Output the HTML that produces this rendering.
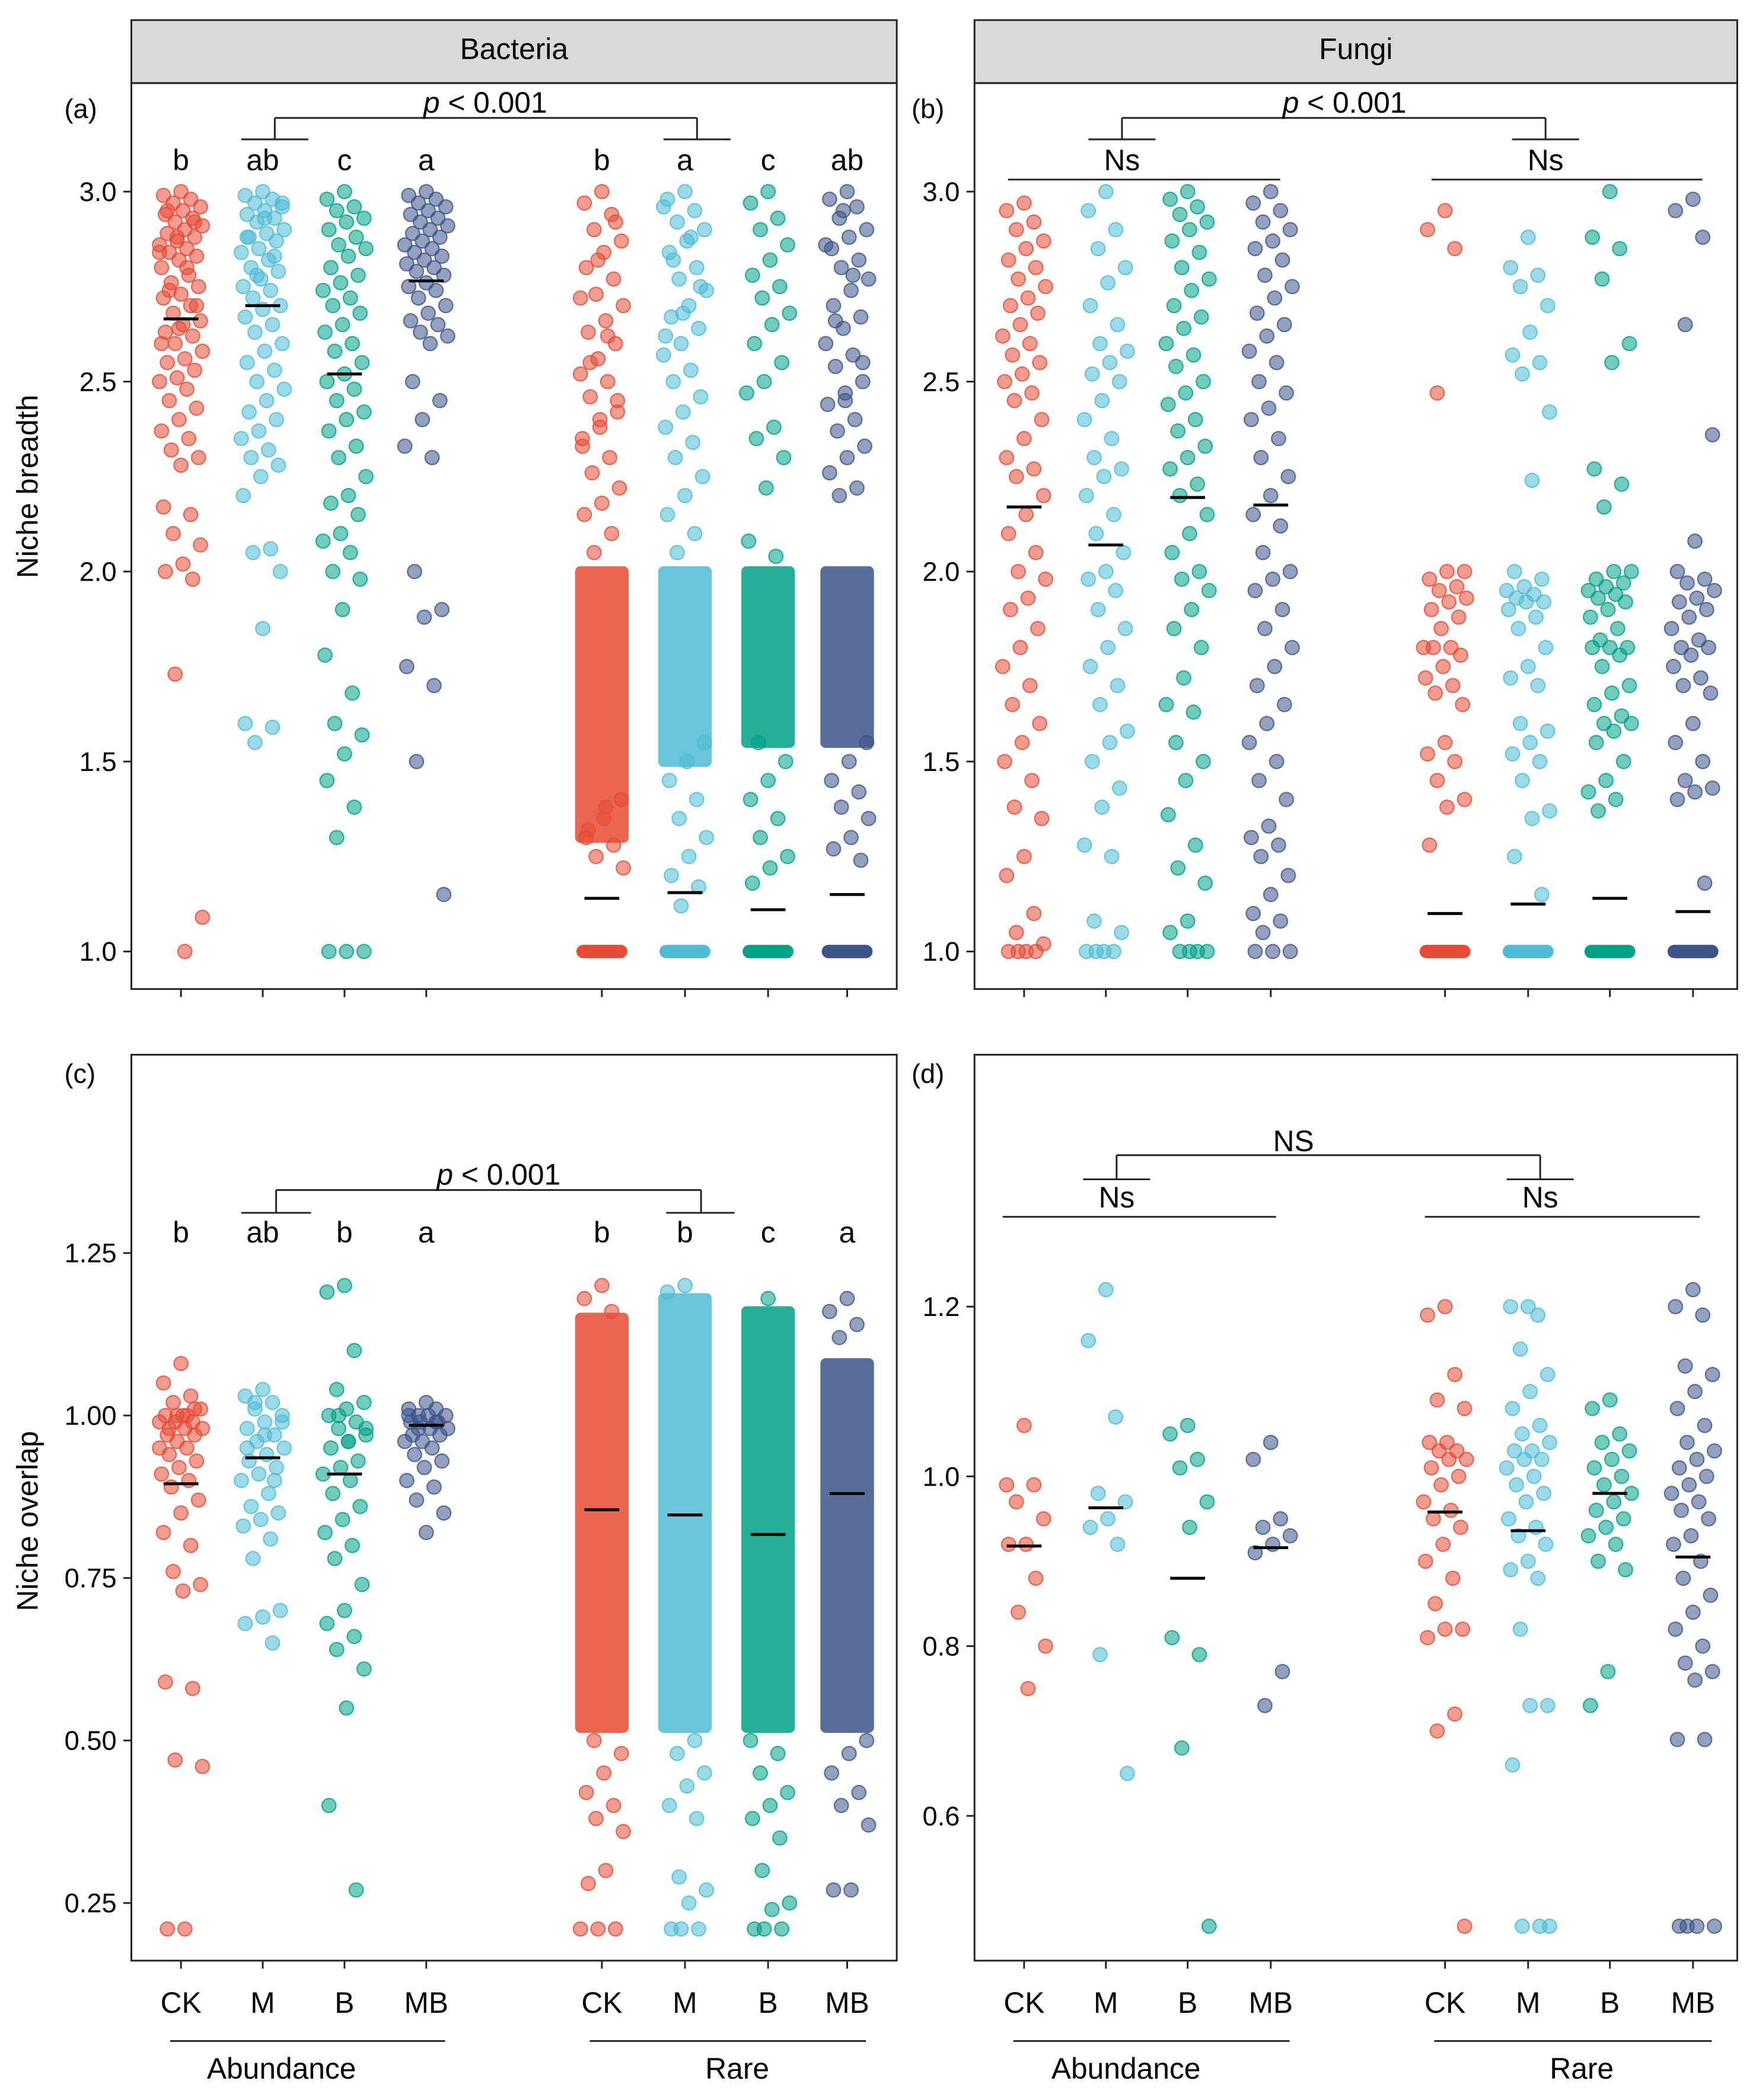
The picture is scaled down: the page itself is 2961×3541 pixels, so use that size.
<!DOCTYPE html>
<html><head><meta charset="utf-8"><style>
html,body{margin:0;padding:0;background:#fff}
svg{display:block}
text{font-family:"Liberation Sans",Arial,sans-serif;fill:#000}
</style></head><body>
<svg id="chart" width="2961" height="3541" viewBox="0 0 1310 1567" preserveAspectRatio="none" xmlns="http://www.w3.org/2000/svg"></svg>
<script>
// ---------- DATA ----------
const groups = ["CK","M","B","MB"];
const colors = ["#E64B35","#4DBBD5","#00A087","#3C5488"];
// Panel a: bacteria niche breadth
const aAbund = [
 [3.0,2.99,2.98,2.97,2.96,2.95,2.94,2.93,2.92,2.91,2.9,2.89,2.88,2.87,2.86,2.85,2.84,2.83,2.82,2.8,2.78,2.76,2.75,2.73,2.72,2.7,2.68,2.66,2.65,2.63,2.62,2.6,2.58,2.56,2.55,2.53,2.51,2.5,2.48,2.45,2.43,2.4,2.37,2.35,2.32,2.3,2.28,2.17,2.15,2.1,2.07,2.02,2.0,1.98,1.73,1.09,1.0,2.95,2.92,2.88,2.84,2.8,2.74,2.7,2.64,2.6],
 [3.0,2.99,2.98,2.97,2.96,2.95,2.94,2.93,2.92,2.9,2.89,2.88,2.87,2.85,2.84,2.82,2.8,2.79,2.77,2.75,2.74,2.72,2.7,2.69,2.67,2.65,2.63,2.6,2.58,2.55,2.53,2.5,2.48,2.45,2.42,2.4,2.37,2.35,2.32,2.3,2.28,2.25,2.2,2.06,2.05,2.0,1.85,1.6,1.59,1.55,2.97,2.93,2.88,2.83,2.78],
 [3.0,2.98,2.96,2.95,2.93,2.92,2.9,2.88,2.86,2.85,2.83,2.8,2.78,2.76,2.74,2.72,2.7,2.68,2.65,2.63,2.6,2.58,2.55,2.52,2.5,2.48,2.45,2.42,2.4,2.37,2.33,2.3,2.25,2.2,2.18,2.15,2.1,2.08,2.05,2.0,1.98,1.9,1.78,1.68,1.6,1.57,1.52,1.45,1.38,1.3,1.0,1.0,1.0],
 [3.0,2.99,2.98,2.97,2.96,2.95,2.94,2.93,2.92,2.91,2.9,2.89,2.88,2.87,2.86,2.85,2.84,2.83,2.82,2.81,2.8,2.79,2.78,2.76,2.75,2.74,2.72,2.7,2.68,2.66,2.65,2.63,2.62,2.6,2.5,2.45,2.4,2.33,2.3,2.0,1.9,1.88,1.75,1.7,1.5,1.15]
];
const aRare = [
 [3.0,2.97,2.94,2.9,2.87,2.84,2.8,2.77,2.73,2.7,2.66,2.63,2.6,2.56,2.52,2.5,2.46,2.42,2.38,2.35,2.3,2.26,2.22,2.18,2.15,2.1,2.05,1.4,1.35,1.3,1.28,1.25,1.22,1.38,1.32,2.92,2.82,2.72,2.62,2.55,2.45,2.4,2.33],
 [3.0,2.98,2.95,2.92,2.9,2.87,2.84,2.8,2.77,2.74,2.7,2.67,2.64,2.6,2.57,2.53,2.5,2.46,2.42,2.38,2.34,2.3,2.25,2.2,2.15,2.1,2.05,1.55,1.5,1.45,1.4,1.35,1.3,1.25,1.2,1.17,1.12,2.96,2.88,2.82,2.75,2.68,2.62],
 [3.0,2.97,2.93,2.9,2.86,2.82,2.78,2.75,2.72,2.68,2.65,2.6,2.55,2.5,2.47,2.38,2.35,2.3,2.22,2.08,2.04,1.55,1.5,1.45,1.4,1.35,1.3,1.25,1.22,1.18],
 [3.0,2.98,2.96,2.93,2.9,2.88,2.85,2.82,2.8,2.77,2.74,2.7,2.67,2.64,2.6,2.57,2.54,2.5,2.47,2.44,2.4,2.37,2.33,2.3,2.26,2.22,2.2,1.55,1.5,1.45,1.42,1.38,1.35,1.3,1.27,1.24,2.95,2.86,2.78,2.66,2.55,2.45]
];
const aRareBand = [[1.3,2.0],[1.5,2.0],[1.55,2.0],[1.55,2.0]];
const aMeanAb = [2.665,2.70,2.52,2.765];
const aMeanRare = [1.14,1.155,1.11,1.15];
// Panel b: fungi niche breadth
const bAbund = [
 [2.97,2.95,2.92,2.9,2.87,2.85,2.82,2.8,2.77,2.75,2.72,2.7,2.68,2.65,2.62,2.6,2.57,2.55,2.52,2.5,2.47,2.45,2.4,2.35,2.3,2.27,2.25,2.2,2.15,2.1,2.05,2.0,1.98,1.93,1.9,1.85,1.8,1.75,1.7,1.65,1.6,1.55,1.5,1.45,1.38,1.35,1.25,1.2,1.1,1.05,1.02,1.0,1.0,1.0,1.0],
 [3.0,2.95,2.9,2.85,2.8,2.76,2.7,2.65,2.6,2.58,2.55,2.52,2.5,2.45,2.4,2.35,2.3,2.27,2.25,2.2,2.15,2.1,2.05,2.0,1.98,1.95,1.9,1.85,1.8,1.75,1.7,1.65,1.58,1.55,1.5,1.43,1.38,1.28,1.25,1.08,1.05,1.0,1.0,1.0,1.0],
 [3.0,2.98,2.96,2.94,2.92,2.9,2.87,2.84,2.8,2.77,2.74,2.7,2.67,2.64,2.6,2.57,2.54,2.5,2.47,2.44,2.4,2.37,2.33,2.3,2.27,2.23,2.2,2.15,2.1,2.05,2.0,1.98,1.95,1.9,1.85,1.8,1.72,1.65,1.63,1.55,1.5,1.45,1.36,1.28,1.22,1.18,1.08,1.05,1.0,1.0,1.0,1.0],
 [3.0,2.97,2.95,2.92,2.9,2.87,2.85,2.82,2.78,2.75,2.72,2.68,2.65,2.62,2.58,2.55,2.5,2.47,2.43,2.4,2.35,2.3,2.25,2.2,2.15,2.12,2.05,2.0,1.98,1.95,1.9,1.85,1.8,1.75,1.7,1.65,1.6,1.55,1.5,1.45,1.4,1.33,1.3,1.28,1.25,1.2,1.15,1.1,1.08,1.05,1.0,1.0,1.0]
];
const bRare = [
 [2.95,2.9,2.85,2.47,2.0,2.0,1.98,1.96,1.95,1.93,1.92,1.9,1.88,1.85,1.8,1.8,1.8,1.78,1.75,1.72,1.7,1.68,1.65,1.55,1.52,1.5,1.45,1.4,1.38,1.28],
 [2.88,2.8,2.78,2.75,2.7,2.63,2.57,2.55,2.52,2.42,2.24,2.0,1.98,1.96,1.95,1.94,1.93,1.92,1.92,1.9,1.88,1.85,1.8,1.75,1.72,1.7,1.6,1.58,1.55,1.52,1.5,1.45,1.37,1.35,1.25,1.15],
 [3.0,2.88,2.85,2.77,2.6,2.55,2.27,2.23,2.17,2.0,2.0,1.98,1.97,1.96,1.95,1.94,1.93,1.92,1.9,1.88,1.85,1.82,1.8,1.8,1.8,1.78,1.75,1.7,1.68,1.65,1.62,1.6,1.6,1.58,1.55,1.5,1.45,1.42,1.4,1.37],
 [2.98,2.95,2.88,2.65,2.36,2.08,2.0,1.98,1.97,1.95,1.93,1.92,1.9,1.88,1.85,1.82,1.8,1.8,1.78,1.75,1.72,1.7,1.68,1.6,1.55,1.5,1.45,1.43,1.42,1.4,1.18]
];
const bMeanAb = [2.17,2.07,2.195,2.175];
const bMeanRare = [1.10,1.125,1.14,1.105];
// Panel c: bacteria niche overlap
const cAbund = [
 [1.08,1.05,1.03,1.02,1.01,1.0,1.0,0.99,0.99,0.98,0.98,0.97,0.97,0.96,0.95,0.95,0.94,0.93,0.92,0.91,0.9,0.89,0.87,0.85,0.82,0.8,0.76,0.74,0.73,0.59,0.58,0.47,0.46,0.21,0.21,1.01,1.0,0.99,1.0,0.98],
 [1.04,1.03,1.02,1.01,1.0,0.99,0.98,0.97,0.96,0.95,0.94,0.93,0.92,0.91,0.9,0.88,0.86,0.85,0.84,0.83,0.81,0.78,0.7,0.69,0.68,0.65,1.02,0.99,0.97,0.95,0.9],
 [1.2,1.19,1.1,1.04,1.02,1.01,1.0,0.99,0.98,0.97,0.96,0.95,0.93,0.92,0.91,0.9,0.88,0.86,0.84,0.82,0.8,0.78,0.74,0.7,0.68,0.66,0.64,0.61,0.55,0.4,0.27,1.0,0.98,0.96],
 [1.02,1.01,1.01,1.0,1.0,1.0,0.99,0.99,0.99,0.98,0.98,0.97,0.97,0.96,0.96,0.95,0.94,0.93,0.92,0.9,0.89,0.87,0.85,0.82,1.0,0.99,0.98]
];
const cRare = [
 [1.2,1.18,1.16,0.5,0.48,0.45,0.42,0.4,0.38,0.36,0.3,0.28,0.21,0.21,0.21],
 [1.2,1.19,0.5,0.48,0.45,0.43,0.4,0.38,0.29,0.27,0.25,0.21,0.21,0.21],
 [1.18,0.5,0.48,0.45,0.42,0.4,0.38,0.35,0.3,0.25,0.24,0.21,0.21,0.21],
 [1.18,1.16,1.14,1.12,0.5,0.48,0.45,0.42,0.4,0.37,0.27,0.27]
];
const cRareBand = [[0.52,1.15],[0.52,1.18],[0.52,1.16],[0.52,1.08]];
const cMeanAb = [0.895,0.935,0.91,0.985];
const cMeanRare = [0.855,0.847,0.817,0.88];
// Panel d: fungi niche overlap
const dAbund = [
 [1.06,0.99,0.99,0.97,0.95,0.92,0.92,0.88,0.84,0.8,0.75],
 [1.22,1.16,1.07,0.98,0.97,0.95,0.94,0.92,0.79,0.65],
 [1.06,1.05,1.02,1.01,0.97,0.94,0.81,0.79,0.68,0.47],
 [1.04,1.02,0.95,0.94,0.93,0.92,0.91,0.77,0.73]
];
const dRare = [
 [1.2,1.19,1.12,1.09,1.08,1.04,1.04,1.03,1.03,1.02,1.02,1.01,1.0,0.99,0.97,0.96,0.95,0.94,0.92,0.9,0.88,0.85,0.82,0.82,0.81,0.72,0.7,0.47],
 [1.2,1.2,1.19,1.15,1.12,1.1,1.08,1.06,1.05,1.04,1.03,1.03,1.02,1.02,1.01,1.0,0.99,0.98,0.97,0.95,0.94,0.93,0.92,0.9,0.89,0.88,0.82,0.73,0.73,0.66,0.47,0.47,0.47],
 [1.09,1.08,1.05,1.04,1.03,1.02,1.01,1.0,0.99,0.98,0.97,0.96,0.95,0.94,0.93,0.92,0.9,0.89,0.77,0.73],
 [1.22,1.2,1.19,1.13,1.12,1.1,1.08,1.06,1.04,1.03,1.02,1.01,1.0,0.99,0.98,0.97,0.96,0.95,0.93,0.92,0.9,0.88,0.86,0.84,0.82,0.8,0.78,0.77,0.76,0.69,0.69,0.47,0.47,0.47,0.47]
];
const dMeanAb = [0.918,0.963,0.88,0.916];
const dMeanRare = [0.958,0.936,0.98,0.905];
const ticksA = [1.0,1.5,2.0,2.5,3.0];
const ticksC = [0.25,0.5,0.75,1.0,1.25];
const ticksD = [0.6,0.8,1.0,1.2];
const letA = ["b","ab","c","a","b","a","c","ab"];
const letC = ["b","ab","b","a","b","b","c","a"];

// ---------- DRAW ----------
const NS="http://www.w3.org/2000/svg";
const svg=document.getElementById('chart');
function mk(tag,attrs,parent){const e=document.createElementNS(NS,tag);for(const k in attrs)e.setAttribute(k,attrs[k]);(parent||svg).appendChild(e);return e;}
function txt(x,y,s,size,anchor,parent){const t=mk('text',{x:x,y:y,'font-size':size,'text-anchor':anchor||'middle'},parent);t.textContent=s;return t;}
function lin(v0,p0,v1,p1){return v=>p0+(v-v0)*(p1-p0)/(v1-v0);}
const yA=lin(1.0,710,3.0,143);
const yC=lin(0.25,1420,1.25,935);
const yD=lin(0.6,1355,1.2,975);
const xL=[135,196,257,318,449,511,573,632];
const xR=[764,825,886,948,1078,1140,1201,1263];

function frame(x0,x1,y0,y1,name){
  const r=mk('rect',{x:x0,y:y0,width:x1-x0,height:y1-y0,fill:'none',stroke:'#222','stroke-width':1.3});
  
  
}
function yticks(ticks,yf,x0,name,fmt){
  const g=mk('g',{});
  
  
  ticks.forEach(v=>{
    mk('line',{x1:x0-6,x2:x0,y1:yf(v),y2:yf(v),stroke:'#222','stroke-width':1.3},g);
    txt(x0-11,yf(v)+7,fmt(v),20,'end',g);
  });
}
function xticks(xs,y1){
  const g=mk('g',{});
  
  
  xs.forEach(x=>mk('line',{x1:x,x2:x,y1:y1,y2:y1+6,stroke:'#222','stroke-width':1.3},g));
}
function points(vals,xc,col,yf){
  const g=mk('g',{});
  
  
  vals.forEach((v,i)=>{
    const dx=(((i*37+11)%23)-11)/11*16;
    const c=mk('circle',{cx:xc+dx,cy:yf(v),r:5.2,fill:col,'fill-opacity':0.55,stroke:col,'stroke-opacity':0.8,'stroke-width':1},g);
    
    
  });
}
function band(b,xc,col,yf){
  const r=mk('rect',{x:xc-20,y:yf(b[1])-4,width:40,height:yf(b[0])-yf(b[1])+8,rx:4,fill:col,'fill-opacity':0.85});
  
  
}
function floorBar(v,xc,col,yf){
  const r=mk('rect',{x:xc-19,y:yf(v)-5,width:38,height:10,rx:5,fill:col});
  
  
}
function meanBar(v,xc,yf){
  const l=mk('line',{x1:xc-13,x2:xc+13,y1:yf(v),y2:yf(v),stroke:'#000','stroke-width':2.2});
  
  
}
function hl(x1,x2,y){mk('line',{x1:x1,x2:x2,y1:y,y2:y,stroke:'#222','stroke-width':1.3});}
function vl(x,y1,y2){mk('line',{x1:x,x2:x,y1:y1,y2:y2,stroke:'#222','stroke-width':1.3});}
function ptext(x,y){
  const t=mk('text',{x:x,y:y,'font-size':22,'text-anchor':'middle'});
  
  
  const a=mk('tspan',{'font-style':'italic'},t);a.textContent='p';
  const b=mk('tspan',{},t);b.textContent=' < 0.001';
}

// strips
[[98,669,'Bacteria','strip-bacteria'],[727,1296,'Fungi','strip-fungi']].forEach(s=>{
  const r=mk('rect',{x:s[0],y:15,width:s[1]-s[0],height:47,fill:'#d9d9d9',stroke:'#222','stroke-width':1.3});
  
  
  const t=txt((s[0]+s[1])/2,44,s[2],22);
  
  
});

// Panel A
aRareBand.forEach((b,i)=>band(b,xL[i+4],colors[i],yA));
groups.forEach((g,i)=>{
  points(aAbund[i],xL[i],colors[i],yA);
  points(aRare[i],xL[i+4],colors[i],yA);
  floorBar(1.0,xL[i+4],colors[i],yA);
  meanBar(aMeanAb[i],xL[i],yA);meanBar(aMeanRare[i],xL[i+4],yA);
});
// Panel B
groups.forEach((g,i)=>{
  points(bAbund[i],xR[i],colors[i],yA);
  points(bRare[i],xR[i+4],colors[i],yA);
  floorBar(1.0,xR[i+4],colors[i],yA);
  meanBar(bMeanAb[i],xR[i],yA);meanBar(bMeanRare[i],xR[i+4],yA);
});
// Panel C
cRareBand.forEach((b,i)=>band(b,xL[i+4],colors[i],yC));
groups.forEach((g,i)=>{
  points(cAbund[i],xL[i],colors[i],yC);
  points(cRare[i],xL[i+4],colors[i],yC);
  meanBar(cMeanAb[i],xL[i],yC);meanBar(cMeanRare[i],xL[i+4],yC);
});
// Panel D
groups.forEach((g,i)=>{
  points(dAbund[i],xR[i],colors[i],yD);
  points(dRare[i],xR[i+4],colors[i],yD);
  meanBar(dMeanAb[i],xR[i],yD);meanBar(dMeanRare[i],xR[i+4],yD);
});

frame(98,669,62,738,'panel-a-frame');
frame(727,1296,62,738,'panel-b-frame');
frame(98,669,787,1463,'panel-c-frame');
frame(727,1296,787,1463,'panel-d-frame');
yticks(ticksA,yA,98,'panel-a-y-ticks',v=>v.toFixed(1));
yticks(ticksA,yA,727,'panel-b-y-ticks',v=>v.toFixed(1));
yticks(ticksC,yC,98,'panel-c-y-ticks',v=>v.toFixed(2));
yticks(ticksD,yD,727,'panel-d-y-ticks',v=>v.toFixed(1));
xticks(xL,738);xticks(xR,738);xticks(xL,1463);xticks(xR,1463);

// panel tags
[['(a)',48,88],['(b)',680,88],['(c)',48,808],['(d)',680,808]].forEach(p=>{
  const t=txt(p[1],p[2],p[0],20,'start');
  
  
});
// y titles
[['Niche breadth',363,'y-axis-title-breadth'],['Niche overlap',1135,'y-axis-title-overlap']].forEach(a=>{
  const t=mk('text',{x:0,y:0,'font-size':22,'text-anchor':'middle',transform:`translate(28,${a[1]}) rotate(-90)`});
  t.textContent=a[0];
  
  
});
// letters
letA.forEach((l,i)=>{const t=txt(xL[i],127,l,22);});
letC.forEach((l,i)=>{const t=txt(xL[i],927,l,22);});
// brackets A
hl(180,230,104);hl(495,545,104);vl(205,104,88);vl(520,104,88);hl(205,520,88);ptext(362,84);
// brackets B
hl(752,955,134);hl(1068,1270,134);hl(812,862,104);hl(1128,1178,104);vl(837,104,88);vl(1153,104,88);hl(837,1153,88);ptext(1003,84);
[837,1153].forEach(x=>{const t=txt(x,127,'Ns',22);});
// brackets C
hl(180,232,905);hl(497,548,905);vl(206,905,888);vl(523,905,888);hl(206,523,888);ptext(372,884);
// brackets D
hl(748,952,908);hl(1063,1268,908);hl(808,858,880);hl(1124,1174,880);vl(833,880,862);vl(1149,880,862);hl(833,1149,862);
{const t=txt(965,859,'NS',22);}
[833,1149].forEach(x=>{const t=txt(x,901,'Ns',22);});

// x labels
[xL,xR].forEach(xs=>{
  xs.forEach((x,i)=>{const t=txt(x,1502,groups[i%4],22);});
});
[[127,332,'Abundance',210],[440,646,'Rare',550],[756,962,'Abundance',840],[1070,1277,'Rare',1180]].forEach(g=>{
  hl(g[0],g[1],1523);
  const t=txt(g[3],1551,g[2],22);
  
  
});
</script>
</body></html>
